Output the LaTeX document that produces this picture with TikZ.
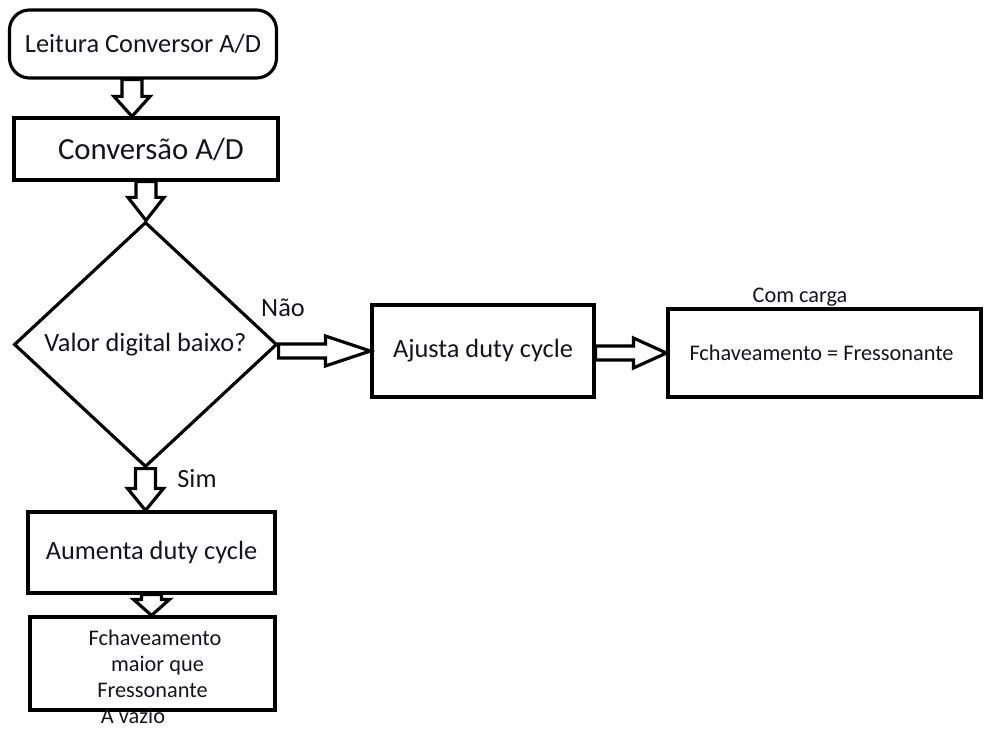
\documentclass[tikz,border=0pt]{standalone}
\usepackage{fontspec}
\setmainfont{Carlito}
\usepackage{xcolor}
\definecolor{ink}{RGB}{20,20,30}
\usepackage{tikz}
\usetikzlibrary{shapes.geometric,calc}

% hollow block arrows between two nodes
\newcommand{\downblk}[4][0pt]{%
  \draw[blk] let \p1=($(#2.south)+(#1,0)$), \p2=(#3.north) in
    (\x1-0.2cm,\y1) -- (\x1+0.2cm,\y1) -- (\x1+0.2cm,\y2+#4) -- (\x1+0.36cm,\y2+#4)
    -- (\x1,\y2) -- (\x1-0.36cm,\y2+#4) -- (\x1-0.2cm,\y2+#4) -- cycle;}
\newcommand{\rightblk}[3]{%
  \draw[blk] let \p1=(#1.east), \p2=(#2.west) in
    (\x1,\y2+0.14cm) -- (\x2-#3,\y2+0.14cm) -- (\x2-#3,\y2+0.3cm) -- (\x2,\y2)
    -- (\x2-#3,\y2-0.3cm) -- (\x2-#3,\y2-0.14cm) -- (\x1,\y2-0.14cm) -- cycle;}

\begin{document}
\begin{tikzpicture}[
  font=\fontsize{15}{18}\selectfont,
  every node/.style={text=ink},
  box/.style={rectangle,draw=black,line width=1.8pt,inner sep=0pt,align=center},
  term/.style={box,rounded corners=0.4cm},
  dec/.style={diamond,draw=black,line width=1.8pt,inner sep=0pt,aspect=1.07},
  small/.style={font=\fontsize{12.7}{14.8}\selectfont},
  blk/.style={draw=black,line width=1.8pt,fill=white,line join=miter}
]
  \useasboundingbox (0,0) rectangle (19.68,-14.58);

  % main column
  \node[term,minimum width=5.34cm,minimum height=1.36cm] (start) at (2.86,-0.88) {Leitura Conversor A/D};
  \node[box,minimum width=5.28cm,minimum height=1.24cm,font=\fontsize{17.5}{20}\selectfont] (conv) at (2.92,-2.98)
    {\hspace*{0.2cm}Conversão A/D};
  \node[dec,minimum width=5.26cm,minimum height=4.9cm] (test) at (2.91,-6.89) {Valor digital baixo?};
  \node[box,minimum width=4.94cm,minimum height=1.62cm] (aum) at (3.03,-11.05) {Aumenta duty cycle};
  \node[box,small,minimum width=4.9cm,minimum height=1.86cm] (maior) at (3.05,-13.27)
    {\hspace*{0.1cm}Fchaveamento\\\hspace*{0.2cm}maior que\\Fressonante};

  % right branch
  \node[box,minimum width=4.44cm,minimum height=1.84cm] (ajust) at (9.66,-7.02) {Ajusta duty cycle};
  \node[box,small,minimum width=6.26cm,minimum height=1.76cm] (igual) at (16.49,-7.06)
    {\makebox[5.4cm][l]{Fchaveamento = Fressonante}};

  % labels
  \node (nao) at (5.66,-6.16) {Não};
  \node (sim) at (3.94,-9.58) {Sim};
  \node[small] (carga) at (16.0,-5.94) {Com carga};
  \node[small] (vazio) at (2.66,-14.32) {A vazio};

  \downblk[-0.22cm]{start}{conv}{0.4cm}
  \downblk{conv}{test}{0.46cm}
  \downblk{test}{aum}{0.44cm}
  \downblk{aum}{maior}{0.32cm}
  \rightblk{test}{ajust}{0.9cm}
  \rightblk{ajust}{igual}{0.66cm}
\end{tikzpicture}
\end{document}
